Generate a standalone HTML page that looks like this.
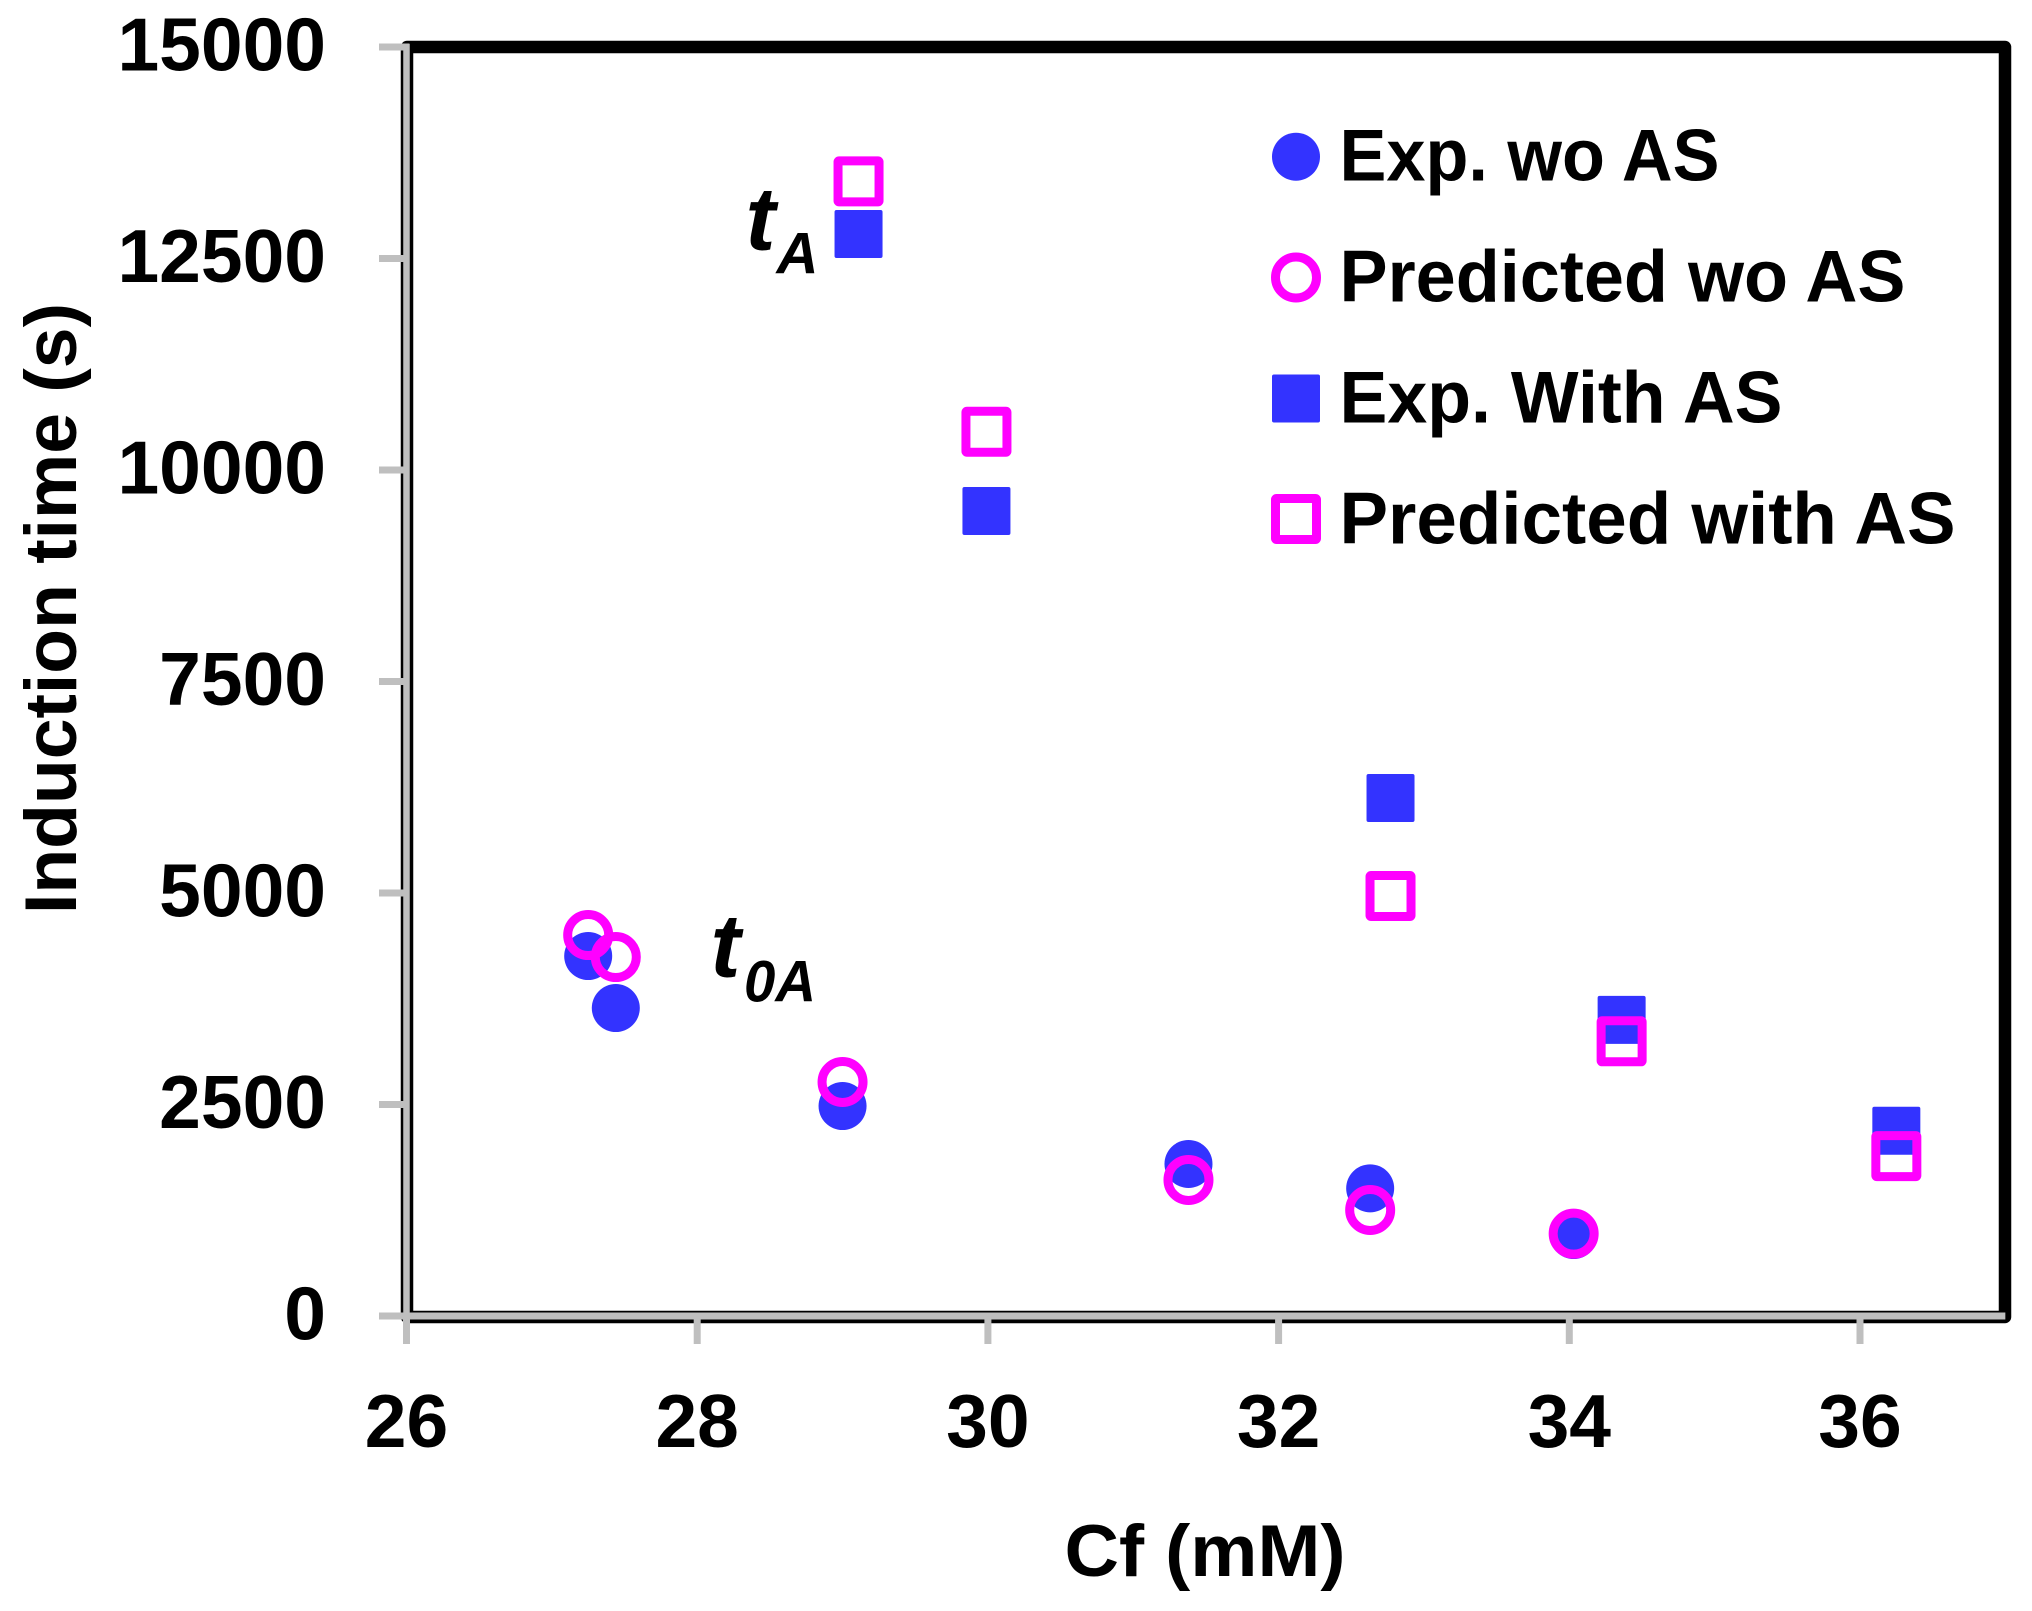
<!DOCTYPE html>
<html lang="en">
<head>
<meta charset="utf-8">
<title>Induction time vs Cf</title>
<style>
html,body{margin:0;padding:0;background:#fff;width:2032px;height:1611px;overflow:hidden}
svg{display:block}
text{font-family:"Liberation Sans",sans-serif;font-weight:bold;fill:#000}
</style>
</head>
<body>
<svg id="chart" xmlns="http://www.w3.org/2000/svg" width="2032" height="1611" viewBox="0 0 2032 1611">
  <rect x="0" y="0" width="2032" height="1611" fill="#fff"/>
  <rect x="407" y="47" width="1598" height="1270" fill="#fff" stroke="#000" stroke-width="12.5" stroke-linejoin="round"/>
  <g id="axes"></g>
  <g id="marks"></g>

  <text transform="translate(76,914) rotate(-90)" font-size="73" textLength="611" lengthAdjust="spacingAndGlyphs">Induction time (s)</text>
  <text x="1064.5" y="1576" font-size="73" textLength="281" lengthAdjust="spacingAndGlyphs">Cf (mM)</text>

  <g>
    <text x="745.5" y="250" font-size="90" font-style="italic">t</text>
    <text x="776.5" y="273.5" font-size="58" font-style="italic" textLength="42" lengthAdjust="spacingAndGlyphs">A</text>
  </g>
  <g>
    <text x="710.5" y="977" font-size="90" font-style="italic">t</text>
    <text x="744" y="1001.7" font-size="58" font-style="italic" textLength="72" lengthAdjust="spacingAndGlyphs">0A</text>
  </g>

  <g>
    <g>
      <circle cx="1296" cy="156.7" r="24" fill="#3333ff"/>
      <text x="1339.5" y="180.7" font-size="73" textLength="380" lengthAdjust="spacingAndGlyphs">Exp. wo AS</text>
    </g>
    <g>
      <circle cx="1296" cy="277.5" r="20.5" fill="none" stroke="#ff00ff" stroke-width="9"/>
      <text x="1339.5" y="301.7" font-size="73" textLength="566" lengthAdjust="spacingAndGlyphs">Predicted wo AS</text>
    </g>
    <g>
      <rect x="1272" y="374.5" width="48" height="48" rx="2" fill="#3333ff"/>
      <text x="1339.5" y="422.7" font-size="73" textLength="443" lengthAdjust="spacingAndGlyphs">Exp. With AS</text>
    </g>
    <g>
      <rect x="1275.5" y="498.5" width="41" height="41" rx="1" fill="none" stroke="#ff00ff" stroke-width="9"/>
      <text x="1339.5" y="543.3" font-size="73" textLength="616" lengthAdjust="spacingAndGlyphs">Predicted with AS</text>
    </g>
  </g>
</svg>
<script>
// Chart data
const xTickValues = [26, 28, 30, 32, 34, 36];
const yTickValues = [0, 2500, 5000, 7500, 10000, 12500, 15000];
const xDomain = [26, 37];
const yDomain = [0, 15000];

const expWoX = [27.25, 27.44, 29.0, 31.38, 32.63, 34.03];
const expWoY = [4255, 3640, 2482, 1797, 1509, 957];
const predWoX = [27.25, 27.44, 29.0, 31.38, 32.63, 34.03];
const predWoY = [4503, 4243, 2766, 1608, 1253, 973];
const expWithX = [29.11, 29.99, 32.77, 34.36, 36.25];
const expWithY = [12790, 9515, 6123, 3500, 2190];
const predWithX = [29.11, 29.99, 32.77, 34.36, 36.25];
const predWithY = [13412, 10452, 4965, 3247, 1890];

const NS = 'http://www.w3.org/2000/svg';
const plotLeft = 406.5, plotRight = 2005.35, plotTop = 47, plotBottom = 1316;
function xScale(v) { return plotLeft + (v - xDomain[0]) / (xDomain[1] - xDomain[0]) * (plotRight - plotLeft); }
function yScale(v) { return plotBottom - (v - yDomain[0]) / (yDomain[1] - yDomain[0]) * (plotBottom - plotTop); }
function make(tag, attrs, parent) {
  const el = document.createElementNS(NS, tag);
  for (const k in attrs) el.setAttribute(k, attrs[k]);
  parent.appendChild(el);
  return el;
}

const axes = document.getElementById('axes');
const marks = document.getElementById('marks');
const GRAY = '#bfbfbf', BLUE = '#3333ff', MAGENTA = '#ff00ff';

const yAxisLine = make('line', {x1: plotLeft, y1: plotTop - 3, x2: plotLeft, y2: plotBottom, stroke: GRAY, 'stroke-width': 6.5}, axes);


const xAxisLine = make('line', {x1: plotLeft, y1: plotBottom, x2: plotRight, y2: plotBottom, stroke: GRAY, 'stroke-width': 7}, axes);



yTickValues.forEach(function (v) {
  const y = yScale(v);
  const t = make('line', {x1: 379, y1: y, x2: plotLeft + 3, y2: y, stroke: GRAY, 'stroke-width': 7}, axes);
  
  
  const l = make('text', {x: 326, y: y + 23.5, 'font-size': 75, 'text-anchor': 'end'}, axes);
  l.textContent = String(v);
  
  
});

xTickValues.forEach(function (v) {
  const x = xScale(v);
  const t = make('line', {x1: x, y1: plotBottom, x2: x, y2: 1344, stroke: GRAY, 'stroke-width': 7}, axes);
  
  
  const l = make('text', {x: x, y: 1447, 'font-size': 75, 'text-anchor': 'middle'}, axes);
  l.textContent = String(v);
  
  
});

expWoX.forEach(function (xv, i) {
  const c = make('circle', {cx: xScale(xv), cy: yScale(expWoY[i]), r: 24, fill: BLUE}, marks);
  
  
});
predWoX.forEach(function (xv, i) {
  const c = make('circle', {cx: xScale(xv), cy: yScale(predWoY[i]), r: 20.5, fill: 'none', stroke: MAGENTA, 'stroke-width': 9}, marks);
  
  
});
expWithX.forEach(function (xv, i) {
  const r = make('rect', {x: xScale(xv) - 24, y: yScale(expWithY[i]) - 24, width: 48, height: 48, rx: 2, fill: BLUE}, marks);
  
  
});
predWithX.forEach(function (xv, i) {
  const r = make('rect', {x: xScale(xv) - 20.5, y: yScale(predWithY[i]) - 20.5, width: 41, height: 41, rx: 1, fill: 'none', stroke: MAGENTA, 'stroke-width': 9}, marks);
  
  
});
</script>
</body>
</html>
